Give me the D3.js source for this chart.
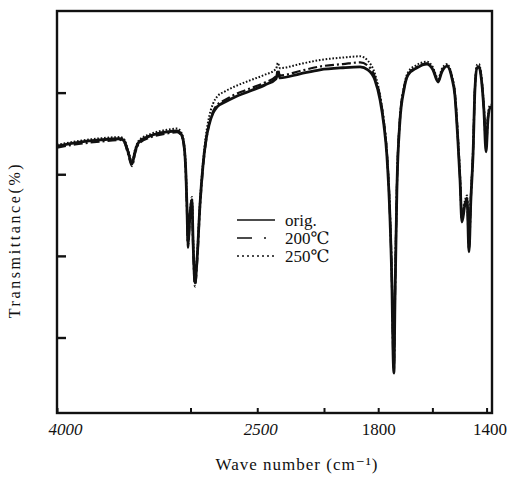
<!DOCTYPE html>
<meta charset="utf-8">
<head>
  <title>IR spectrum</title>
  <style>
    body { margin: 0; background: #fff; }
    text { font-family: "Liberation Serif", "DejaVu Serif", serif; fill: #111; }
  </style>
</head>

<body>
  <script src="https://d3js.org/d3.v7.min.js"></script>

  <script>

// wave numbers (cm-1), shared by the three curves
const waveNumber = [
  4000, 3865, 3678, 3528, 3498, 3468, 3438, 3416, 3386, 3303,
  3176, 3101, 3071, 3049, 3034, 3026, 3019, 3004, 2989, 2981,
  2966, 2951, 2929, 2906, 2884, 2861, 2831, 2801, 2742, 2682,
  2554, 2442, 2359, 2345, 2330, 2180, 2030, 1930, 1867, 1838,
  1812, 1793, 1779, 1768, 1756, 1749, 1745, 1742, 1738, 1731,
  1720, 1705, 1690, 1657, 1620, 1598, 1579, 1565, 1546, 1528,
  1517, 1506, 1498, 1491, 1480, 1472, 1465, 1458, 1450, 1443,
  1435, 1428, 1421, 1410, 1402, 1395, 1387, 1380
];

// transmittance (%)
const tOrig = [
  66.9, 67.7, 68.4, 68.7, 68.2, 65.5, 62.5, 65.5, 67.9, 69.4,
  70.4, 70.6, 69.9, 67.2, 59.8, 51.3, 42.9, 50.0, 53.7, 43.9,
  33.4, 39.0, 52.5, 62.3, 68.4, 72.1, 75.0, 76.5, 77.7, 78.7,
  80.4, 81.9, 83.4, 85.1, 83.6, 84.6, 85.6, 86.1, 86.3, 85.6,
  83.1, 78.2, 72.1, 64.7, 48.3, 31.6, 15.7, 11.3, 29.2, 56.2,
  72.8, 80.7, 84.3, 86.1, 87.0, 85.6, 82.6, 85.1, 86.5, 83.6,
  79.4, 68.4, 58.6, 48.3, 52.5, 53.7, 41.0, 53.7, 64.7, 80.7,
  86.1, 86.3, 84.3, 75.8, 65.5, 73.3, 76.3, 76.3
];

const t200 = [
  66.5, 67.3, 68.0, 68.4, 67.9, 65.0, 62.0, 65.0, 67.5, 69.0,
  70.0, 70.3, 69.6, 66.8, 59.0, 50.5, 42.0, 49.2, 53.0, 43.0,
  32.5, 38.2, 51.8, 61.8, 68.0, 72.3, 75.4, 77.0, 78.2, 79.3,
  81.0, 82.5, 84.0, 85.6, 84.2, 85.3, 86.4, 87.0, 87.4, 86.6,
  83.8, 79.0, 72.8, 65.3, 49.0, 32.3, 16.5, 12.2, 30.0, 56.8,
  73.2, 81.0, 84.5, 86.3, 87.2, 85.8, 82.9, 85.3, 86.7, 83.9,
  79.8, 69.0, 59.2, 49.0, 53.0, 54.2, 41.8, 54.2, 65.2, 81.0,
  86.3, 86.5, 84.6, 76.3, 67.0, 73.8, 76.5, 76.5
];

const t250 = [
  67.2, 68.0, 68.8, 69.1, 68.6, 66.0, 63.2, 66.0, 68.3, 69.8,
  70.9, 71.2, 70.4, 67.8, 60.5, 52.0, 44.0, 50.8, 54.4, 45.0,
  34.5, 40.0, 53.3, 63.0, 69.6, 74.0, 77.3, 79.0, 80.3, 81.3,
  83.0, 84.4, 85.8, 87.3, 86.0, 87.0, 88.0, 88.6, 88.9, 87.8,
  84.6, 79.3, 73.0, 65.6, 49.5, 33.0, 17.5, 13.0, 30.8, 57.2,
  73.6, 81.4, 85.0, 86.8, 87.6, 86.2, 83.4, 85.8, 87.0, 84.2,
  80.2, 69.6, 59.8, 49.6, 53.5, 54.8, 42.5, 54.8, 65.8, 81.4,
  86.8, 87.0, 85.0, 76.8, 68.0, 74.3, 77.0, 77.0
];

const seriesNames = ["orig.", "200℃", "250℃"];
const xTicks = [4000, 3000, 2500, 2000, 1800, 1600, 1400];
const xTickLabels = [4000, 2500, 1800, 1400];
const yTicks = [20, 40, 60, 80];

const totalWidth = 510, totalHeight = 485;

const svg = d3.select("body")
    .append("svg")
    .attr("width", totalWidth)
    .attr("height", totalHeight);

// chart paper switches scale at 2000 cm-1
const x = d3.scaleLinear()
    .domain([4000, 2000, 1380])
    .range([57, 324, 492]);

const y = d3.scaleLinear()
    .domain([1.5, 100])
    .range([413, 11]);

const styles = [
  { dash: null, width: 2.8 },
  { dash: "9,3,2,3", width: 2.2 },
  { dash: "1.6,1.8", width: 2.0 }
];

const line = d3.line()
    .x(d => x(d[0]))
    .y(d => y(d[1]))
    .curve(d3.curveMonotoneX);

[tOrig, t200, t250].forEach((t, i) => {
  svg.append("path")
    .attr("d", line(waveNumber.map((w, j) => [w, t[j]])))
    .style("fill", "none")
    .style("stroke", "#111")
    .style("stroke-width", styles[i].width)
    .style("stroke-dasharray", styles[i].dash)
    .style("stroke-linejoin", "round");
});

// frame
svg.append("rect")
  .attr("x", x.range()[0])
  .attr("y", y.range()[1])
  .attr("width", x.range()[2] - x.range()[0])
  .attr("height", y.range()[0] - y.range()[1])
  .style("fill", "none")
  .style("stroke", "#111")
  .style("stroke-width", 2.4);

// wave number axis
const xAxis = svg.append("g")
  .attr("transform", "translate(0," + y.range()[0] + ")")
  .call(d3.axisBottom(x)
    .tickValues(xTicks)
    .tickSizeInner(-5)
    .tickSizeOuter(0)
    .tickPadding(10)
    .tickFormat(v => xTickLabels.includes(v) ? v : ""));

xAxis.select(".domain").remove();
xAxis.selectAll("line").style("stroke", "#111").style("stroke-width", 2);
xAxis.selectAll("text")
  .style("font-size", "17px")
  .style("font-family", "Liberation Serif, serif")
  .style("font-style", v => v >= 2500 ? "italic" : "normal")
  .attr("dx", v => v === 4000 ? 8 : v === 2500 ? 3 : v === 1400 ? 3 : 0);

// transmittance axis
const yAxis = svg.append("g")
  .attr("transform", "translate(" + x.range()[0] + ",0)")
  .call(d3.axisRight(y)
    .tickValues(yTicks)
    .tickSize(9)
    .tickFormat(""));

yAxis.select(".domain").remove();
yAxis.selectAll("line").style("stroke", "#111").style("stroke-width", 2.4);

svg.append("text")
  .attr("x", 297)
  .attr("y", 470)
  .attr("text-anchor", "middle")
  .style("font-size", "17px")
  .style("letter-spacing", "1px")
  .text("Wave number (cm⁻¹)");

svg.append("text")
  .attr("transform", "translate(20,240) rotate(-90)")
  .attr("text-anchor", "middle")
  .style("font-size", "16px")
  .style("letter-spacing", "2.6px")
  .text("Transmittance(%)");

// legend
const legend = svg.append("g")
  .attr("transform", "translate(237,220)");

seriesNames.forEach((name, i) => {
  const row = legend.append("g").attr("transform", "translate(0," + i * 18 + ")");
  row.append("line")
    .attr("x1", 0).attr("x2", 38)
    .style("stroke", "#111")
    .style("stroke-width", i === 0 ? 1.6 : 1.4)
    .style("stroke-dasharray", i === 0 ? null : i === 1 ? "15,12,2,20" : "2,3");
  row.append("text")
    .attr("x", 48)
    .attr("dy", "0.35em")
    .style("font-size", "17px")
    .text(name);
});

  </script>
</body>
</html>
